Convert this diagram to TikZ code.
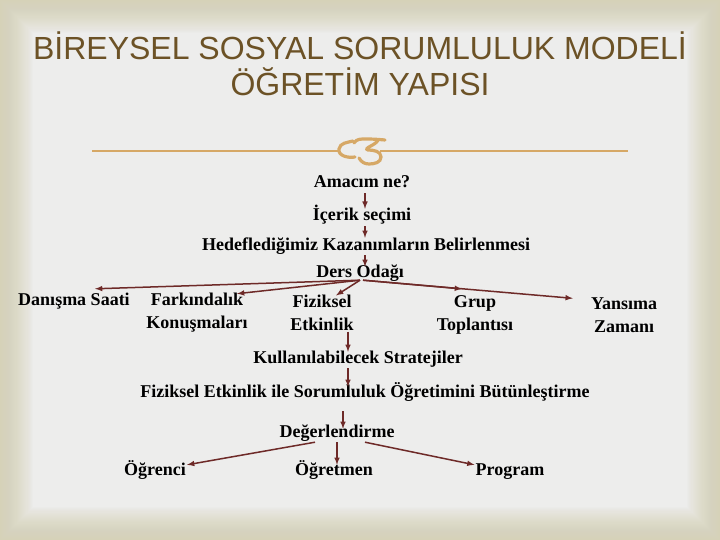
\documentclass[tikz,border=0pt]{standalone}
\usepackage{fontspec}
\setmainfont{Liberation Serif}
\newfontfamily\titlefont{Liberation Sans}
\usepackage{tikz}

\definecolor{titlebrown}{RGB}{108,82,38}
\definecolor{gold}{RGB}{214,168,102}
\definecolor{arrowred}{RGB}{110,42,40}
\definecolor{paper}{RGB}{237,237,236}
\definecolor{edge}{RGB}{214,210,180}

\tikzset{
  box/.style={inner sep=1pt, font=\bfseries\fontsize{18}{23}\selectfont, text height=13pt, text depth=4pt},
  box2/.style={inner sep=1pt, font=\bfseries\fontsize{18}{23}\selectfont, align=center},
  arr/.style={->, >=latex, draw=arrowred, line width=1.5pt},
}

\begin{document}
\begin{tikzpicture}[x=1pt, y=-1pt]

      \useasboundingbox (0,0) rectangle (720,540);
      \fill[paper] (0,0) rectangle (720,540);
      \foreach \i in {1,...,30}
        \draw[edge, opacity=0.05, line width=2.2*\i pt] (0,0) rectangle (720,540);

      \node[titlebrown, font=\titlefont\fontsize{32}{36}\selectfont, align=center] (title) at (360,64)
        {BİREYSEL SOSYAL SORUMLULUK MODELİ\\ÖĞRETİM YAPISI};

      \draw[gold, line width=1.5pt] (92,151) to (338,151);
      \draw[gold, line width=1.5pt] (380,151) to (628,151);
      \draw[gold, line width=3.2pt, line cap=round] (353,141) to [out=195, in=80] (339,149) to [out=260, in=190] (355,157);
      \draw[gold, line width=3.2pt, line cap=round] (354,143) to [out=60, in=180] (366,139) to [out=0, in=175] (385,140);
      \draw[gold, line width=3.2pt, line cap=round] (378,140) to [out=250, in=160] (368,150) to [out=0, in=90] (381,157)
        to [out=270, in=0] (369,164) to [out=180, in=300] (359,158);

      \node[box] (amac) at (362,183.5) {Amacım ne?};
      \node[box] (icerik) at (362,216.5) {İçerik seçimi};
      \node[box] (hedef) at (366,245.5) {Hedeflediğimiz Kazanımların Belirlenmesi};
      \node[box] (ders) at (360,272.5) {Ders Odağı};
      \node[box] (danisma) at (74,300.5) {Danışma Saati};
      \node[box2] (farkindalik) at (197,312.5) {Farkındalık\\Konuşmaları};
      \node[box2] (fiziksel) at (322,312.5) {Fiziksel\\Etkinlik};
      \node[box2] (grup) at (475,314.5) {Grup\\Toplantısı};
      \node[box2] (yansima) at (624,315) {Yansıma\\Zamanı};
      \node[box] (strateji) at (358,358.5) {Kullanılabilecek Stratejiler};
      \node[box] (butun) at (365,392.5) {Fiziksel Etkinlik ile Sorumluluk Öğretimini Bütünleştirme};
      \node[box] (deger) at (337,432.5) {Değerlendirme};
      \node[box] (ogrenci) at (155,470.5) {Öğrenci};
      \node[box] (ogretmen) at (334,470.5) {Öğretmen};
      \node[box] (program) at (510,470.5) {Program};

      \draw[arr] ([xshift=3pt]amac.south) to ([xshift=3pt,yshift=-2pt]icerik.north);
      \draw[arr] ([xshift=3pt]icerik.south) to ([xshift=-1pt,yshift=-2pt]hedef.north);
      \draw[arr] ([xshift=-1pt]hedef.south) to ([xshift=5pt,yshift=-4pt]ders.north);
      \draw[arr] ([yshift=2pt]ders.south) to ([xshift=21pt,yshift=2pt]danisma.north);
      \draw[arr] ([yshift=2pt]ders.south) to ([xshift=40pt,yshift=-2pt]farkindalik.north);
      \draw[arr] ([yshift=2pt]ders.south) to ([xshift=14pt,yshift=-2pt]fiziksel.north);
      \draw[arr] ([xshift=3pt,yshift=2pt]ders.south) to ([xshift=-13pt,yshift=5pt]grup.north);
      \draw[arr] ([xshift=3pt,yshift=2pt]ders.south) to ([xshift=-17pt,yshift=-2pt]yansima.north west);
      \draw[arr] ([xshift=26pt]fiziksel.south) to ([xshift=-10pt,yshift=-3pt]strateji.north);
      \draw[arr] ([xshift=-10pt]strateji.south) to ([xshift=-17pt,yshift=-4pt]butun.north);
      \draw[arr] ([xshift=-22pt,yshift=-9pt]butun.south) to ([xshift=6pt,yshift=-6pt]deger.north);
      \draw[arr] ([xshift=-22pt]deger.south) to ([yshift=-4pt]ogrenci.north east);
      \draw[arr] (deger.south) to ([yshift=-4pt]deger.south |- ogretmen.north);
      \draw[arr] ([xshift=28pt]deger.south) to ([yshift=-4pt]program.north west);
    \end{tikzpicture}
\end{document}
